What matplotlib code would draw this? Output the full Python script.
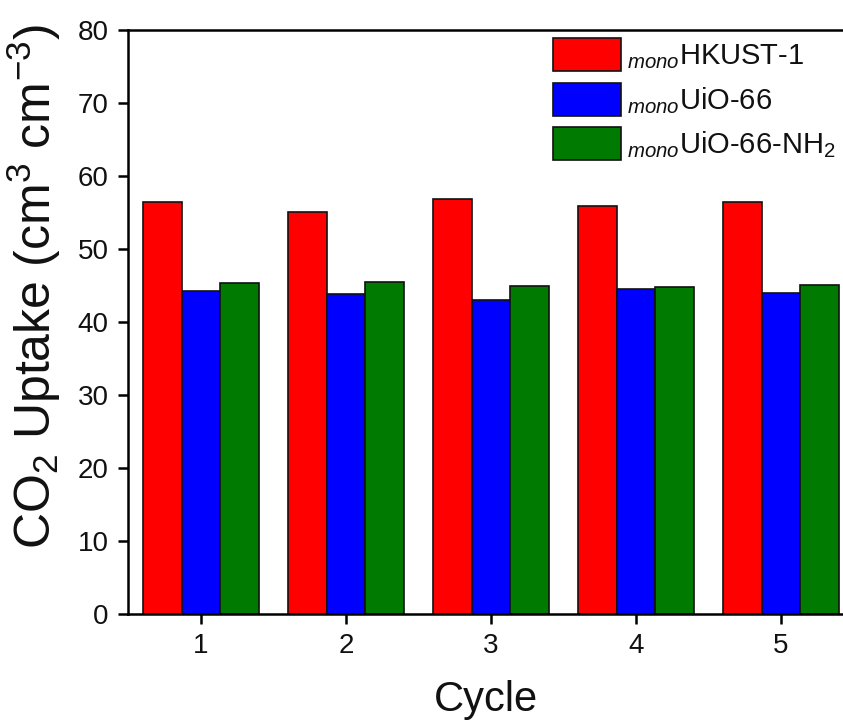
import matplotlib
matplotlib.use("Agg")
import matplotlib.pyplot as plt
import numpy as np

plt.rcParams['font.family'] = ['Liberation Sans', 'DejaVu Sans']
plt.rcParams['mathtext.fontset'] = 'custom'
plt.rcParams['mathtext.rm'] = 'Liberation Sans'
plt.rcParams['mathtext.it'] = 'Liberation Sans:italic'
plt.rcParams['mathtext.bf'] = 'Liberation Sans:bold'

cycles = [1, 2, 3, 4, 5]
hkust1 = [56.5, 55.0, 56.9, 55.9, 56.5]
uio66 = [44.2, 43.8, 43.0, 44.5, 44.0]
uio66_nh2 = [45.3, 45.5, 44.9, 44.75, 45.1]

series = [
    (hkust1, '#ff0000', r'$_{\mathit{mono}}$HKUST-1'),
    (uio66, '#0000ff', r'$_{\mathit{mono}}$UiO-66'),
    (uio66_nh2, '#007a00', r'$_{\mathit{mono}}$UiO-66-NH$_2$'),
]

fig = plt.figure(figsize=(8.43, 7.24), dpi=100)
ax = fig.add_axes([0.1518, 0.1519, 0.8482, 0.8067])

width = 0.267
x = np.array(cycles, dtype=float)
for i, (vals, color, label) in enumerate(series):
    ax.bar(x + (i - 1) * width, vals, width, color=color, edgecolor='#111111',
           linewidth=1.2, label=label)

ax.set_xlim(0.497, 5.427)
ax.set_ylim(0, 80)
ax.set_xticks(cycles)
ax.set_yticks(np.arange(0, 81, 10))

for s in ['left', 'bottom', 'top']:
    ax.spines[s].set_linewidth(1.8)
ax.spines['right'].set_visible(False)
ax.tick_params(axis='both', direction='out', length=7, width=1.8,
               labelsize=20, pad=7, labelcolor='#111111')
ax.tick_params(top=False, right=False)

ax.set_xlabel('Cycle', fontsize=30, labelpad=15, color='#111111')
ax.set_ylabel(r'CO$_2$ Uptake (cm$^3$ cm$^{-3}$)', fontsize=36,
              color='#111111')
ax.yaxis.set_label_coords(-0.091, 0.56)

leg = ax.legend(loc='upper left', bbox_to_anchor=(0.583, 1.0), frameon=False,
                fontsize=21, handlelength=2.33, handleheight=1.36,
                handletextpad=0.2, labelspacing=0.4, borderaxespad=-0.12)
for t in leg.get_texts():
    t.set_color('#111111')

fig.savefig('out.png', dpi=100)
